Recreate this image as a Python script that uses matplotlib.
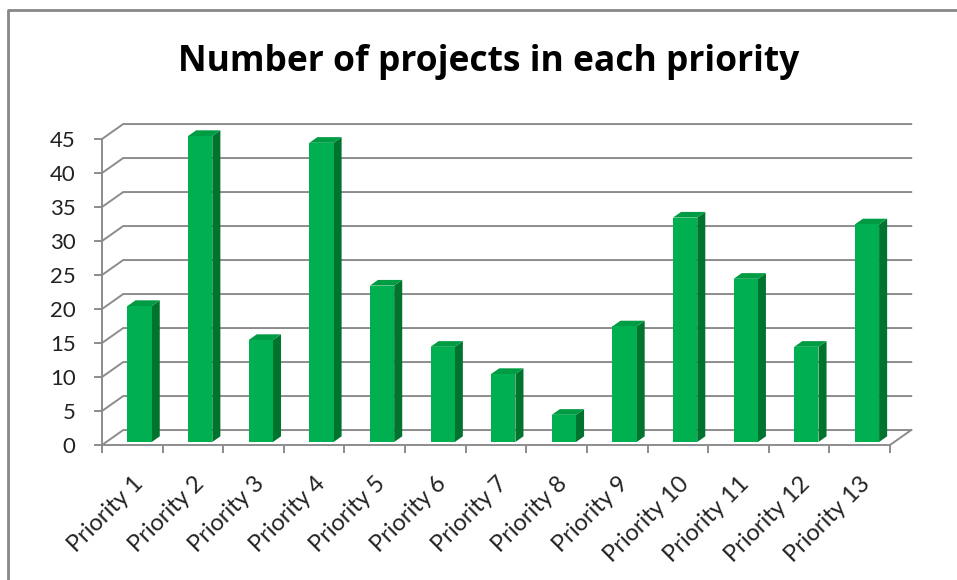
import numpy as np
import matplotlib
matplotlib.use("Agg")
import matplotlib.pyplot as plt
from matplotlib.lines import Line2D

categories = ["Priority %d" % i for i in range(1, 14)]
projects = [20, 45, 15, 44, 23, 14, 10, 4, 17, 33, 24, 14, 32]
yticks = list(range(0, 50, 5))

plt.rcParams["font.family"] = ["Lato", "DejaVu Sans"]

grid_col = "#8c8c8c"
front_col = "#00B050"
side_col = "#00732E"
top_col = "#009C44"

# depth of the 3d box, in data units (categories, values)
dx, dy = 0.35, 2.2
# bar depth range as a fraction of the box depth
d1, d2 = 0.2, 0.58
bar_left, bar_w = 0.35, 0.40

fig = plt.figure(figsize=(9.57, 5.80), dpi=100)
fig.patch.set_facecolor("white")
ax = fig.add_axes([102 / 957, 135 / 580, 788 / 957, 306 / 580])
ax.set_xlim(0, len(categories))
ax.set_ylim(0, 45)
ax.patch.set_visible(False)

# walls: diagonal on the side wall and horizontal on the back wall
n = len(categories)
for v in yticks:
    ax.plot([0, dx, n + dx], [v, v + dy, v + dy], color=grid_col, lw=1.4,
            clip_on=False, zorder=1, solid_joinstyle="miter")
ax.plot([n, n + dx], [0, dy], color=grid_col, lw=1.4, clip_on=False, zorder=1)

# columns: front face, right side and top
x = np.arange(n)
fx = x + bar_left + d1 * dx
base = d1 * dy
bars = ax.bar(fx, projects, width=bar_w, bottom=base, align="edge",
              color=front_col, zorder=3, linewidth=0)
for b in bars:
    b.set_clip_on(False)
sdx, sdy = (d2 - d1) * dx, (d2 - d1) * dy
for xi, v in zip(fx, projects):
    xr = xi + bar_w
    ax.fill([xr, xr + sdx, xr + sdx, xr], [base, base + sdy, base + v + sdy, base + v],
            color=side_col, zorder=2, lw=0, clip_on=False)
    ax.fill([xi, xr, xr + sdx, xi + sdx], [base + v, base + v, base + v + sdy, base + v + sdy],
            color=top_col, zorder=2, lw=0, clip_on=False)

for s in ["top", "right"]:
    ax.spines[s].set_visible(False)
for s in ["left", "bottom"]:
    ax.spines[s].set_color(grid_col)
    ax.spines[s].set_linewidth(1.4)
    ax.spines[s].set_zorder(4)

ax.set_yticks(yticks)
ax.set_yticklabels([str(t) for t in yticks], fontsize=16, color="#222222")
ax.tick_params(axis="y", direction="out", length=6, width=1.4, color=grid_col, pad=13)

ax.set_xticks(np.arange(n + 1))
ax.set_xticklabels([])
ax.tick_params(axis="x", which="major", direction="out", length=6, width=1.4, color=grid_col)
ax.set_xticks(x + 0.5, minor=True)
ax.set_xticklabels(categories, minor=True, rotation=45, ha="right",
                   rotation_mode="anchor", fontsize=17, color="#222222")
ax.tick_params(axis="x", which="minor", length=0, pad=20)

fig.text(489 / 957, 1 - 62 / 580, "Number of projects in each priority",
         ha="center", va="center", fontsize=25.5, fontweight="bold",
         family=["Open Sans", "DejaVu Sans"])

# chart area border
fig.add_artist(Line2D([8 / 957, 8 / 957, 1.0], [0.0, 1 - 10 / 580, 1 - 10 / 580],
                      color="#888888", lw=2, transform=fig.transFigure))

fig.savefig("out.png", dpi=100, facecolor="white")
